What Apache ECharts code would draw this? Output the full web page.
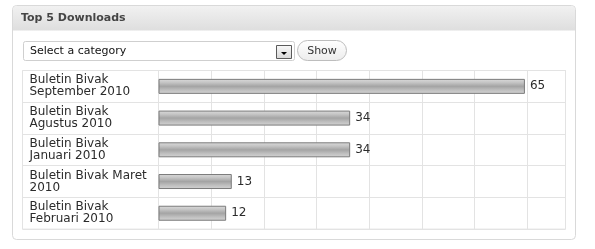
<!DOCTYPE html>
<html>
<head>
<meta charset="utf-8">
<script src="https://cdn.jsdelivr.net/npm/echarts@6/dist/echarts.min.js"></script>
<style>
html,body{margin:0;padding:0;background:#fff;}
#c{width:595px;height:249px;}
</style>
</head>
<body>
<div id="c"></div>
<script>
var title = 'Top 5 Downloads';
var selectText = 'Select a category';
var buttonText = 'Show';
var categories = ['Buletin Bivak September 2010', 'Buletin Bivak Agustus 2010', 'Buletin Bivak Januari 2010', 'Buletin Bivak Maret 2010', 'Buletin Bivak Februari 2010'];
var downloads = [65, 34, 34, 13, 12];

var FONT = 'DejaVu Sans';
var LINE = '#e3e3e3';

var measureCtx = document.createElement('canvas').getContext('2d');
measureCtx.font = '12px "' + FONT + '"';
function wrapLabel(text, maxW) {
  var words = text.split(' '), lines = [], cur = '';
  words.forEach(function (w) {
    var test = cur ? cur + ' ' + w : w;
    if (cur && measureCtx.measureText(test).width > maxW) { lines.push(cur); cur = w; }
    else { cur = test; }
  });
  if (cur) lines.push(cur);
  return lines.join('\n');
}

var chart = echarts.init(document.getElementById('c'), null, {renderer: 'canvas'});

chart.setOption({
  animation: false,
  backgroundColor: '#fff',
  graphic: [
    {type: 'rect', z: -10, shape: {x: 12.5, y: 5.5, width: 563, height: 234, r: 4},
     style: {fill: '#fff', stroke: '#d9d9d9', lineWidth: 1}},
    {type: 'rect', z: -9, shape: {x: 13, y: 6, width: 562, height: 24.5, r: [4, 4, 0, 0]},
     style: {fill: new echarts.graphic.LinearGradient(0, 0, 0, 1, [{offset: 0, color: '#f1f1f1'}, {offset: 1, color: '#dedede'}])}},
    {type: 'text', z: -8, x: 21, y: 18,
     style: {text: title, font: 'bold 11px "' + FONT + '"', fill: '#454545', verticalAlign: 'middle'}},
    {type: 'rect', z: -8, shape: {x: 23.5, y: 41.5, width: 271, height: 19, r: 2},
     style: {fill: '#fff', stroke: '#cfcfcf', lineWidth: 1}},
    {type: 'text', z: -7, x: 30, y: 51,
     style: {text: selectText, font: '11px "' + FONT + '"', fill: '#111', verticalAlign: 'middle'}},
    {type: 'rect', z: -7, shape: {x: 276.5, y: 45.5, width: 15, height: 13},
     style: {fill: new echarts.graphic.LinearGradient(0, 0, 0, 1, [{offset: 0, color: '#fafafa'}, {offset: 1, color: '#d6d6d6'}]), stroke: '#5a5a5a', lineWidth: 1}},
    {type: 'polygon', z: -6, shape: {points: [[281, 52], [287, 52], [284, 55]]},
     style: {fill: '#000'}},
    {type: 'rect', z: -8, shape: {x: 297.5, y: 40.5, width: 49, height: 20, r: 10},
     style: {fill: new echarts.graphic.LinearGradient(0, 0, 0, 1, [{offset: 0, color: '#ffffff'}, {offset: 1, color: '#ececec'}]), stroke: '#bdbdbd', lineWidth: 1}},
    {type: 'text', z: -7, x: 322, y: 51,
     style: {text: buttonText, font: '11px "' + FONT + '"', fill: '#333', align: 'center', verticalAlign: 'middle'}},
    {type: 'rect', z: -8, shape: {x: 22.5, y: 70.5, width: 543, height: 158.6},
     style: {fill: 'none', stroke: LINE, lineWidth: 1}}
  ],
  grid: {left: 158.5, right: 29.5, top: 70.5, bottom: 19.9, containLabel: false},
  xAxis: {
    type: 'value', min: 0, max: 72.2, interval: 9.34,
    axisLine: {show: false}, axisTick: {show: false}, axisLabel: {show: false},
    splitLine: {show: true, lineStyle: {color: LINE, width: 1}}
  },
  yAxis: {
    type: 'category', inverse: true, data: categories,
    axisLine: {show: true, lineStyle: {color: LINE, width: 1}},
    axisTick: {show: true, length: 136, lineStyle: {color: LINE, width: 1}},
    splitLine: {show: true, lineStyle: {color: LINE, width: 1}},
    axisLabel: {
      margin: 129, align: 'left',
      formatter: function (v) { return wrapLabel(v, 121); },
      fontFamily: FONT, fontSize: 12, lineHeight: 12, color: '#2b2b2b'
    }
  },
  series: [{
    type: 'bar', data: downloads, barWidth: 15,
    itemStyle: {
      color: new echarts.graphic.LinearGradient(0, 0, 0, 1, [
        {offset: 0, color: '#dcdcdc'}, {offset: 0.25, color: '#c4c4c4'},
        {offset: 0.5, color: '#a4a4a4'}, {offset: 0.75, color: '#bfbfbf'},
        {offset: 1, color: '#d4d4d4'}]),
      borderColor: '#7b7b7b', borderWidth: 1
    },
    label: {show: true, position: 'right', distance: 5, fontFamily: FONT, fontSize: 12, color: '#2b2b2b'}
  }]
});
</script>
</body>
</html>
